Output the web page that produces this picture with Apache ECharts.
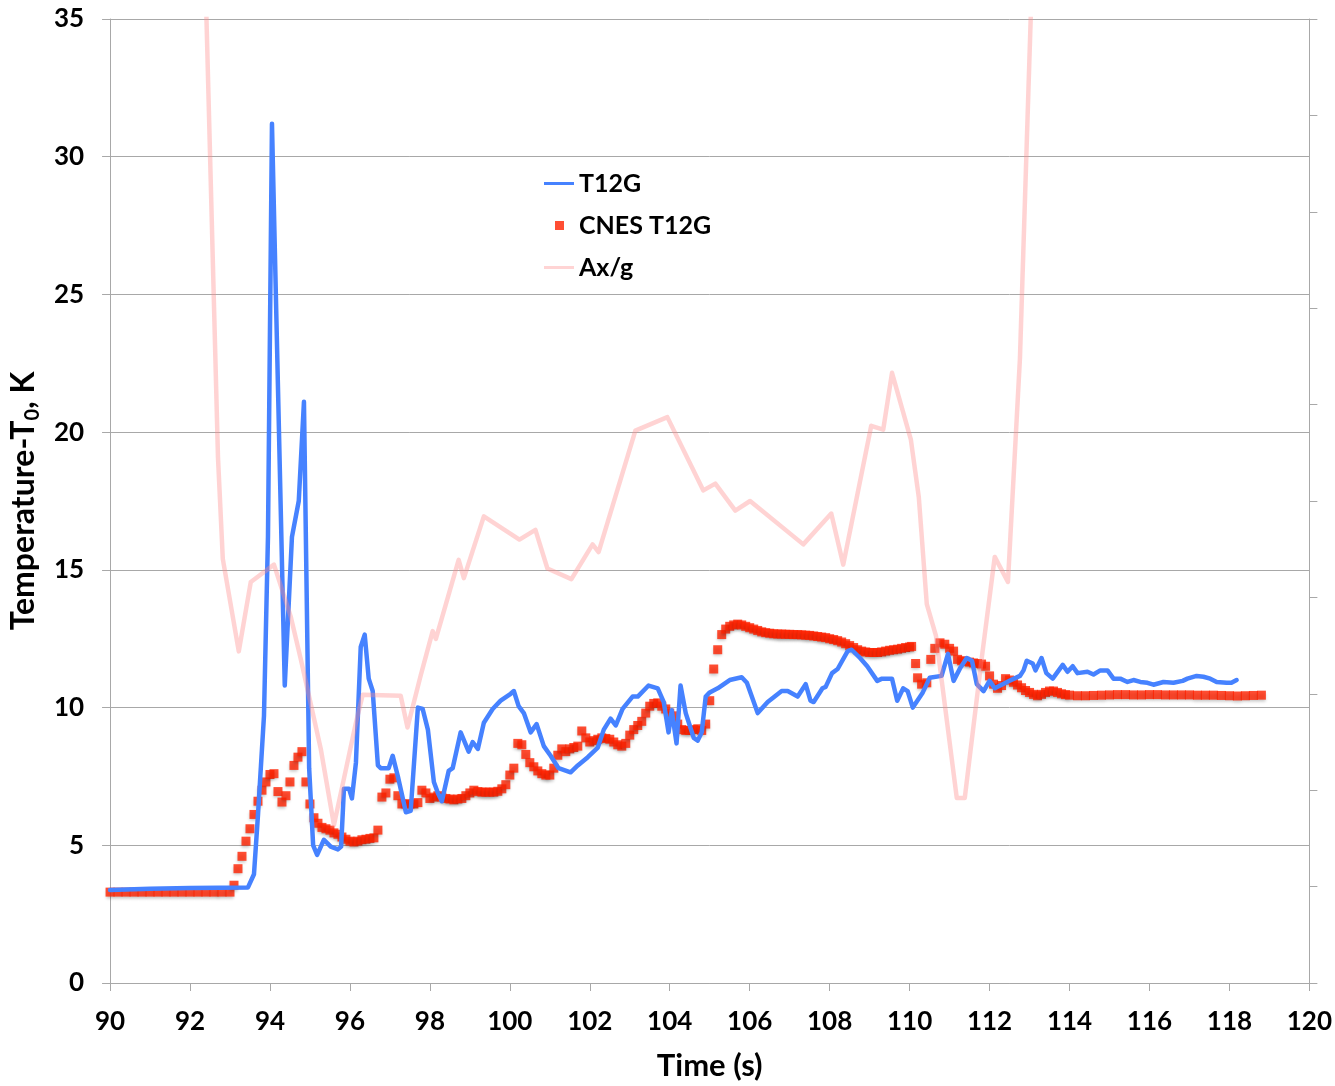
<!DOCTYPE html>
<html>
<head>
<meta charset="utf-8">
<title>T12G temperature rise</title>
<script src="https://cdn.jsdelivr.net/npm/echarts@6/dist/echarts.min.js"></script>
<style>
  html, body { margin: 0; padding: 0; background: #ffffff; overflow: hidden; }
  #chart { width: 1335px; height: 1086px; }
</style>
</head>
<body>
<div id="chart"></div>
<script>
// T12G gauge temperature rise (K) versus time (s)
const t12g = [
  [90.0,3.38],[91.0,3.42],[92.0,3.45],[93.45,3.47],[93.6,3.95],[93.7,6.1],[93.85,9.7],[93.95,16.2],
  [94.05,31.2],[94.37,10.8],[94.55,16.2],[94.72,17.5],[94.85,21.1],[94.98,7.8],[95.08,5.0],[95.18,4.65],
  [95.35,5.2],[95.52,4.95],[95.7,4.85],[95.78,4.95],[95.85,7.05],[95.98,7.05],[96.05,6.7],[96.15,8.0],
  [96.27,12.2],[96.37,12.65],[96.47,11.05],[96.57,10.6],[96.7,7.9],[96.77,7.8],[96.97,7.8],[97.07,8.25],
  [97.2,7.5],[97.4,6.2],[97.52,6.25],[97.7,10.0],[97.82,9.95],[97.95,9.2],[98.1,7.3],[98.2,6.9],
  [98.3,6.6],[98.47,7.7],[98.57,7.8],[98.77,9.1],[98.97,8.4],[99.07,8.75],[99.2,8.5],[99.35,9.45],
  [99.57,9.95],[99.77,10.25],[100.02,10.5],[100.1,10.6],[100.22,10.05],[100.35,9.8],[100.52,9.1],[100.67,9.4],
  [100.85,8.6],[101.02,8.25],[101.22,7.8],[101.52,7.65],[101.7,7.9],[101.95,8.2],[102.2,8.55],[102.35,9.2],
  [102.52,9.6],[102.65,9.35],[102.82,9.95],[103.07,10.4],[103.2,10.4],[103.47,10.8],[103.7,10.7],[103.85,10.2],
  [103.97,9.1],[104.05,9.9],[104.17,8.7],[104.27,10.8],[104.4,9.8],[104.5,9.35],[104.6,8.9],[104.7,8.8],
  [104.8,9.1],[104.9,10.4],[105.0,10.55],[105.2,10.7],[105.5,11.0],[105.8,11.1],[105.93,10.9],[106.2,9.8],
  [106.45,10.2],[106.8,10.6],[106.95,10.6],[107.2,10.4],[107.4,10.85],[107.52,10.25],[107.6,10.2],[107.82,10.7],
  [107.9,10.75],[108.06,11.25],[108.2,11.4],[108.45,12.05],[108.55,12.1],[108.76,11.8],[108.94,11.5],[109.19,10.97],
  [109.31,11.05],[109.56,11.05],[109.69,10.25],[109.84,10.7],[109.95,10.6],[110.08,10.0],[110.33,10.55],[110.5,11.08],
  [110.8,11.15],[110.96,11.95],[111.1,10.97],[111.27,11.45],[111.43,11.8],[111.56,11.7],[111.68,10.85],[111.85,10.6],
  [112.0,10.97],[112.13,10.7],[112.5,10.97],[112.76,11.15],[112.85,11.35],[112.93,11.7],[113.08,11.6],[113.15,11.35],
  [113.3,11.8],[113.42,11.25],[113.58,11.05],[113.83,11.55],[113.95,11.3],[114.08,11.5],[114.2,11.25],[114.45,11.3],
  [114.6,11.2],[114.77,11.35],[114.95,11.35],[115.1,11.05],[115.27,11.05],[115.45,10.93],[115.6,11.0],[115.77,10.93],
  [115.95,10.9],[116.1,10.83],[116.35,10.93],[116.6,10.9],[116.83,10.97],[116.95,11.05],[117.18,11.15],[117.35,11.12],
  [117.52,11.05],[117.68,10.93],[117.93,10.9],[118.05,10.9],[118.18,11.0]
];

// CNES reference measurement for the same gauge
const cnesT12g = [
  [90.0,3.3],[90.2,3.3],[90.4,3.3],[90.6,3.3],[90.8,3.3],[91.0,3.3],[91.2,3.3],[91.4,3.3],
  [91.6,3.3],[91.8,3.3],[92.0,3.3],[92.2,3.3],[92.4,3.3],[92.6,3.3],[92.8,3.3],[93.0,3.3],
  [93.1,3.55],[93.2,4.15],[93.3,4.6],[93.4,5.15],[93.5,5.6],[93.6,6.12],[93.7,6.6],[93.8,7.0],
  [93.9,7.3],[94.0,7.57],[94.1,7.6],[94.2,6.95],[94.3,6.57],[94.4,6.8],[94.5,7.3],[94.6,7.9],
  [94.7,8.2],[94.8,8.4],[94.9,7.3],[95.0,6.5],[95.1,6.0],[95.2,5.8],[95.3,5.65],[95.4,5.6],
  [95.5,5.55],[95.6,5.45],[95.7,5.4],[95.8,5.3],[95.9,5.22],[96.0,5.15],[96.1,5.12],[96.2,5.15],
  [96.3,5.2],[96.4,5.22],[96.5,5.25],[96.6,5.27],[96.7,5.55],[96.8,6.75],[96.9,6.9],[97.0,7.4],
  [97.1,7.45],[97.2,6.8],[97.3,6.5],[97.4,6.5],[97.5,6.5],[97.6,6.5],[97.7,6.55],[97.8,7.0],
  [97.9,6.9],[98.0,6.7],[98.1,6.75],[98.2,6.8],[98.3,6.75],[98.4,6.7],[98.5,6.68],[98.6,6.65],
  [98.7,6.68],[98.8,6.7],[98.9,6.8],[99.0,6.9],[99.1,7.0],[99.2,6.95],[99.3,6.93],[99.4,6.93],
  [99.5,6.93],[99.6,6.93],[99.7,6.96],[99.8,7.05],[99.9,7.2],[100.0,7.55],[100.1,7.8],[100.2,8.7],
  [100.3,8.65],[100.4,8.3],[100.5,8.0],[100.6,7.85],[100.7,7.7],[100.8,7.6],[100.9,7.55],[101.0,7.55],
  [101.1,7.8],[101.2,8.27],[101.3,8.5],[101.4,8.4],[101.5,8.5],[101.6,8.55],[101.7,8.6],[101.8,9.15],
  [101.9,8.9],[102.0,8.75],[102.1,8.8],[102.2,8.85],[102.3,8.9],[102.4,8.88],[102.5,8.85],[102.6,8.75],
  [102.7,8.65],[102.8,8.6],[102.9,8.7],[103.0,9.0],[103.1,9.2],[103.2,9.35],[103.3,9.5],[103.4,9.8],
  [103.5,10.05],[103.6,10.15],[103.7,10.17],[103.8,10.05],[103.9,9.95],[104.0,9.8],[104.1,9.7],[104.2,9.4],
  [104.3,9.2],[104.4,9.17],[104.5,9.17],[104.6,9.2],[104.7,9.23],[104.8,9.17],[104.9,9.4],[105.0,10.25],
  [105.1,11.4],[105.2,12.1],[105.3,12.65],[105.4,12.85],[105.5,12.95],[105.6,13.0],[105.7,13.03],[105.8,13.0],
  [105.9,12.95],[106.0,12.9],[106.1,12.85],[106.2,12.8],[106.3,12.75],[106.4,12.72],[106.5,12.7],[106.6,12.68],
  [106.7,12.67],[106.8,12.67],[106.9,12.66],[107.0,12.66],[107.1,12.65],[107.2,12.65],[107.3,12.64],[107.4,12.63],
  [107.5,12.62],[107.6,12.6],[107.7,12.58],[107.8,12.56],[107.9,12.54],[108.0,12.5],[108.1,12.47],[108.2,12.43],
  [108.3,12.38],[108.4,12.32],[108.5,12.25],[108.6,12.18],[108.7,12.1],[108.8,12.05],[108.9,12.02],[109.0,12.0],
  [109.1,12.0],[109.2,12.0],[109.3,12.02],[109.4,12.05],[109.5,12.08],[109.6,12.1],[109.7,12.12],[109.8,12.15],
  [109.9,12.18],[110.0,12.2],[110.05,12.22],[110.15,11.6],[110.2,11.08],[110.3,10.85],[110.43,10.9],[110.53,11.75],
  [110.63,12.15],[110.76,12.35],[110.88,12.3],[111.0,12.15],[111.1,12.05],[111.2,11.75],[111.3,11.7],[111.4,11.68],
  [111.5,11.65],[111.6,11.62],[111.7,11.6],[111.8,11.58],[111.9,11.5],[112.0,11.15],[112.1,10.85],[112.2,10.7],
  [112.3,10.8],[112.4,11.05],[112.5,11.0],[112.6,10.92],[112.7,10.82],[112.8,10.72],[112.9,10.62],[113.0,10.55],
  [113.1,10.48],[113.2,10.43],[113.3,10.48],[113.4,10.55],[113.5,10.6],[113.6,10.6],[113.7,10.55],[113.8,10.5],
  [113.9,10.47],[114.0,10.45],[114.2,10.43],[114.4,10.43],[114.6,10.44],[114.8,10.45],[115.0,10.46],[115.2,10.47],
  [115.4,10.47],[115.6,10.46],[115.8,10.46],[116.0,10.47],[116.2,10.47],[116.4,10.46],[116.6,10.46],[116.8,10.46],
  [117.0,10.46],[117.2,10.45],[117.4,10.45],[117.6,10.45],[117.8,10.44],[118.0,10.43],[118.2,10.42],[118.4,10.43],
  [118.6,10.44],[118.8,10.45]
];

// Longitudinal acceleration, Ax/g (secondary axis)
const axG = [
  [92.0,16.5],[92.7,5.45],[92.82,4.40],[93.22,3.44],[93.52,4.16],[94.1,4.34],[94.52,3.80],[94.77,3.36],
  [95.27,2.43],[95.6,1.64],[95.85,2.12],[96.15,2.70],[96.32,2.99],[97.27,2.98],[97.44,2.65],[97.77,3.19],
  [98.07,3.65],[98.15,3.57],[98.72,4.39],[98.85,4.20],[99.35,4.84],[100.24,4.60],[100.64,4.70],[100.94,4.30],
  [101.54,4.19],[102.07,4.55],[102.22,4.47],[103.14,5.73],[103.94,5.87],[104.84,5.11],[105.14,5.18],[105.64,4.90],
  [106.01,5.00],[107.34,4.55],[108.04,4.87],[108.34,4.34],[109.04,5.78],[109.34,5.74],[109.56,6.33],[110.03,5.64],
  [110.23,5.04],[110.43,3.93],[110.66,3.60],[111.18,1.92],[111.38,1.92],[111.81,3.39],[112.13,4.42],[112.46,4.16],
  [112.76,6.48],[113.25,12.9]
];

const seriesNames = ['T12G', 'CNES T12G', 'Ax/g'];

const FONT = 'Lato';
const GRID_GRAY = '#a8a8a8';
const BLUE = '#4682ff';
const RED = '#ff2200';
const PINK = 'rgba(255,140,140,0.38)';

// legend glyphs: a short bar for the lines, a small square for the points
const LINE_ICON = 'path://M0,0 M30,14 M0,5.5 L30,5.5 L30,8.5 L0,8.5 Z';
const DOT_ICON = 'path://M0,0 M30,14 M11,2.5 L20,2.5 L20,11.5 L11,11.5 Z';

const chart = echarts.init(document.getElementById('chart'), null, { renderer: 'canvas' });

chart.setOption({
  animation: false,
  backgroundColor: '#ffffff',
  grid: { left: 109, right: 25, top: 19, bottom: 97, containLabel: false },
  legend: {
    orient: 'vertical',
    left: 539,
    top: 166,
    itemWidth: 30,
    itemHeight: 14,
    itemGap: 17,
    textStyle: { fontFamily: FONT, fontSize: 25, fontWeight: 'bold', color: '#000' },
    data: [
      { name: seriesNames[0], icon: LINE_ICON, itemStyle: { color: BLUE } },
      { name: seriesNames[1], icon: DOT_ICON, itemStyle: { color: RED, shadowBlur: 0, shadowOffsetY: 0 } },
      { name: seriesNames[2], icon: LINE_ICON, itemStyle: { color: 'rgba(255,160,160,0.45)' } }
    ]
  },
  xAxis: {
    type: 'value',
    min: 90,
    max: 120,
    interval: 2,
    axisLine: { show: true, onZero: false, lineStyle: { color: GRID_GRAY, width: 1 } },
    axisTick: { show: true, length: 8, lineStyle: { color: GRID_GRAY } },
    splitLine: { show: false },
    axisLabel: { margin: 26, fontFamily: FONT, fontSize: 26, fontWeight: 'bold', color: '#000' },
    name: 'Time (s)',
    nameLocation: 'middle',
    nameGap: 67,
    nameTextStyle: { fontFamily: FONT, fontSize: 31, fontWeight: 'bold', color: '#000' }
  },
  yAxis: [
    {
      type: 'value',
      min: 0,
      max: 35,
      interval: 5,
      axisLine: { show: true, lineStyle: { color: GRID_GRAY, width: 1 } },
      axisTick: { show: true, length: 8, lineStyle: { color: GRID_GRAY } },
      splitLine: { show: true, lineStyle: { color: GRID_GRAY, width: 1 } },
      axisLabel: { margin: 26, fontFamily: FONT, fontSize: 26, fontWeight: 'bold', color: '#000' },
      name: '{a|Temperature-T}{s|0}{a|, K}',
      nameLocation: 'middle',
      nameGap: 62,
      nameTextStyle: {
        rich: {
          a: { fontFamily: FONT, fontSize: 32, fontWeight: 'bold', color: '#000', lineHeight: 38 },
          s: { fontFamily: FONT, fontSize: 20, fontWeight: 'bold', color: '#000', lineHeight: 26, verticalAlign: 'bottom' }
        }
      }
    },
    {
      type: 'value',
      position: 'right',
      min: 0,
      max: 10,
      interval: 1,
      axisLine: { show: true, lineStyle: { color: GRID_GRAY, width: 1 } },
      axisTick: { show: true, length: 8, lineStyle: { color: GRID_GRAY } },
      splitLine: { show: false },
      axisLabel: { show: false }
    }
  ],
  series: [
    {
      name: seriesNames[0],
      type: 'line',
      data: t12g,
      symbol: 'none',
      showSymbol: false,
      lineStyle: { color: BLUE, width: 4.5, join: 'round', cap: 'round' },
      itemStyle: { color: BLUE }
    },
    {
      name: seriesNames[1],
      type: 'scatter',
      data: cnesT12g,
      symbol: 'rect',
      symbolSize: 9,
      itemStyle: {
        color: RED,
        shadowColor: 'rgba(0,0,0,0.28)',
        shadowBlur: 3,
        shadowOffsetY: 2
      }
    },
    {
      name: seriesNames[2],
      type: 'line',
      yAxisIndex: 1,
      data: axG,
      symbol: 'none',
      showSymbol: false,
      lineStyle: { color: PINK, width: 4.5, join: 'round' },
      itemStyle: { color: PINK }
    }
  ]
});
</script>
</body>
</html>
